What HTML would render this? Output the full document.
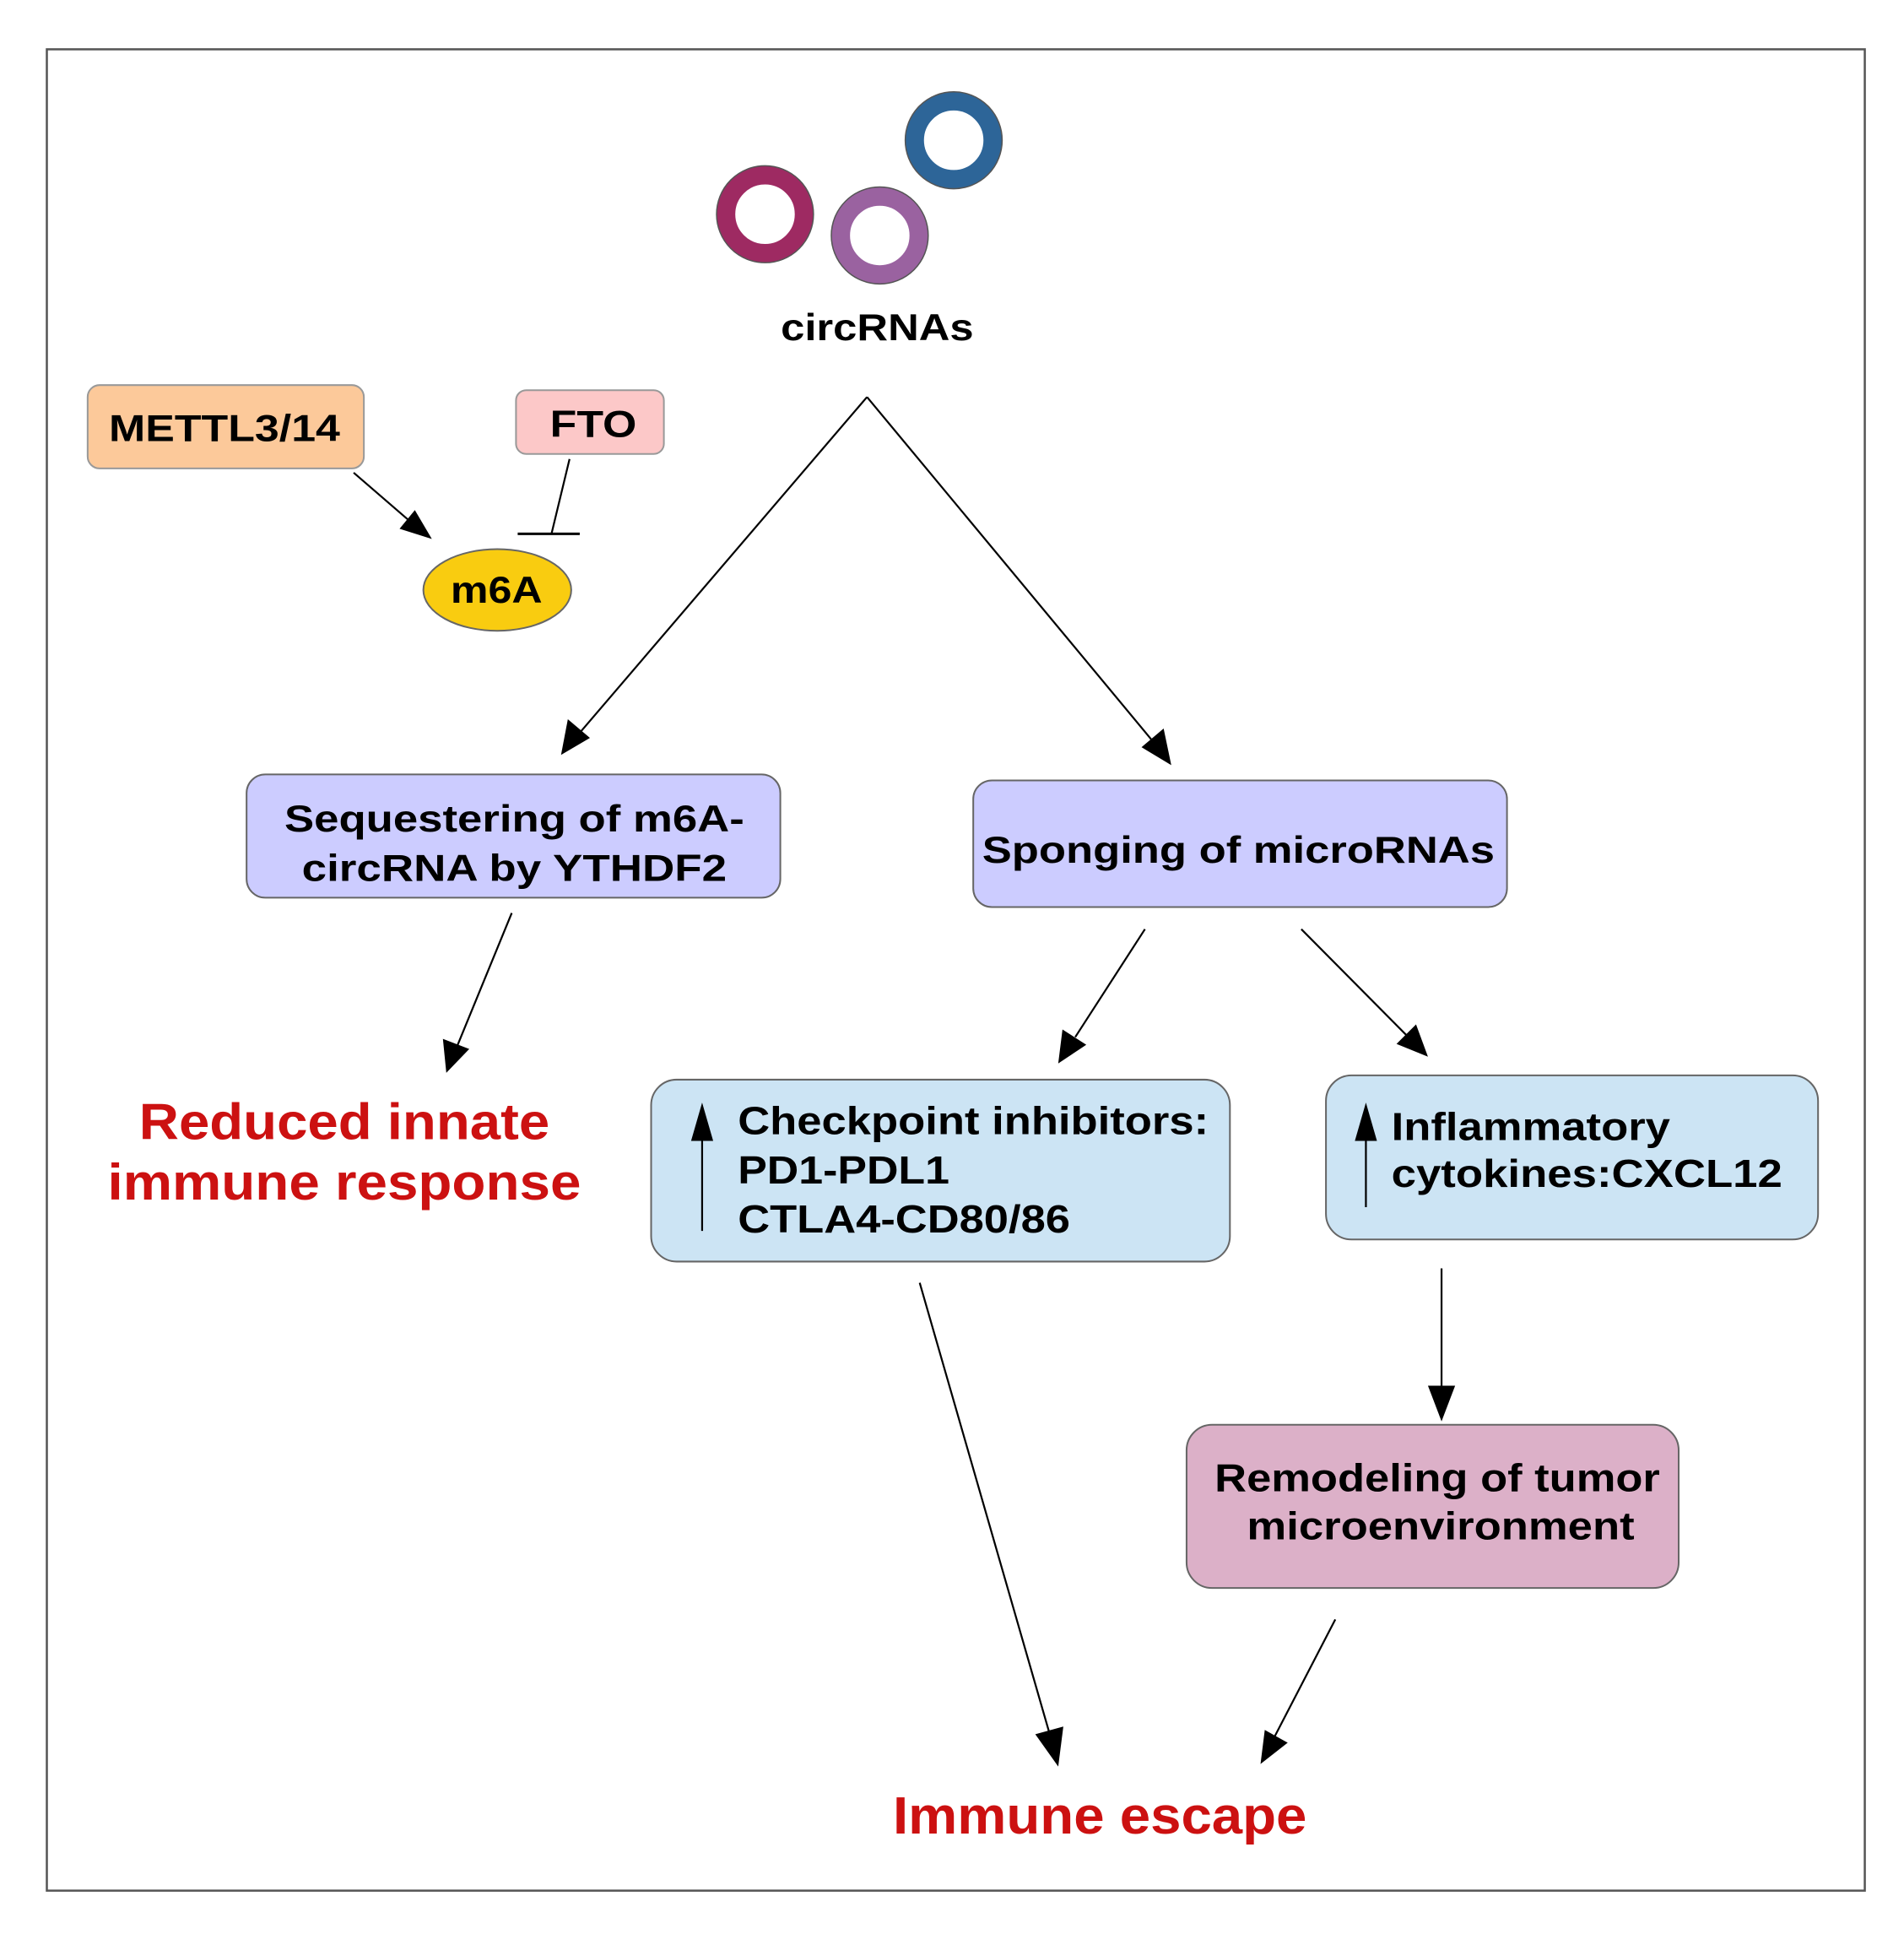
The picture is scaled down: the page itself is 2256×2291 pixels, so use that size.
<!DOCTYPE html>
<html><head><meta charset="utf-8"><style>html,body{margin:0;padding:0;background:#fff}svg{display:block}text{font-family:"Liberation Sans",Arial,sans-serif;font-weight:bold}</style></head>
<body>
<svg width="2256" height="2291" viewBox="0 0 2240 2275" xmlns="http://www.w3.org/2000/svg">
<rect x="55" y="58" width="2139" height="2166" fill="#fff" stroke="#555" stroke-width="2.5"/>
<!-- rings -->
<circle cx="900" cy="252" r="46" fill="none" stroke="#9e2a62" stroke-width="22"/>
<circle cx="900" cy="252" r="57" fill="none" stroke="#555" stroke-width="1.5"/>
<circle cx="1035" cy="277" r="46" fill="none" stroke="#9a62a0" stroke-width="22"/>
<circle cx="1035" cy="277" r="57" fill="none" stroke="#555" stroke-width="1.5"/>
<circle cx="1122" cy="165" r="46" fill="none" stroke="#2d6598" stroke-width="22"/>
<circle cx="1122" cy="165" r="57" fill="none" stroke="#555" stroke-width="1.5"/>
<text x="1032" y="400" font-size="44" text-anchor="middle" textLength="227" lengthAdjust="spacingAndGlyphs">circRNAs</text>
<!-- METTL / FTO / m6A -->
<rect x="103" y="453" width="325" height="98" rx="14" fill="#fcc99a" stroke="#999" stroke-width="2"/>
<text x="264" y="519" font-size="44" text-anchor="middle" textLength="272" lengthAdjust="spacingAndGlyphs">METTL3/14</text>
<rect x="607" y="459" width="174" height="75" rx="12" fill="#fcc8c8" stroke="#999" stroke-width="2"/>
<text x="698" y="514" font-size="44" text-anchor="middle" textLength="102" lengthAdjust="spacingAndGlyphs">FTO</text>
<ellipse cx="585" cy="694" rx="87" ry="48" fill="#f9cc10" stroke="#666" stroke-width="2"/>
<text x="584" y="709" font-size="44" text-anchor="middle" textLength="108" lengthAdjust="spacingAndGlyphs">m6A</text>
<g stroke="#000" stroke-width="2.2" fill="none">
<line x1="416" y1="556" x2="482" y2="613"/>
<line x1="670" y1="540" x2="649" y2="627"/>
<line x1="609" y1="628" x2="682" y2="628" stroke-width="3"/>
<line x1="1020" y1="467" x2="682" y2="862"/>
<line x1="1020" y1="467" x2="1358" y2="874"/>
<line x1="602" y1="1074" x2="538" y2="1230"/>
<line x1="1347" y1="1093" x2="1265" y2="1220"/>
<line x1="1531" y1="1093" x2="1655" y2="1218"/>
<line x1="1696" y1="1492" x2="1696" y2="1635"/>
<line x1="1082" y1="1509" x2="1235" y2="2040"/>
<line x1="1571" y1="1905" x2="1500" y2="2042"/>
</g>
<g fill="#000">
<polygon points="508,634 470,622 488,600"/>
<polygon points="660,888 668,846 694,868"/>
<polygon points="1378,900 1343,879 1369,857"/>
<polygon points="525,1262 521,1222 552,1234"/>
<polygon points="1245,1251 1250,1211 1278,1229"/>
<polygon points="1680,1243 1643,1228 1666,1205"/>
<polygon points="1696,1672 1680,1630 1712,1630"/>
<polygon points="1245,2078 1218,2040 1251,2031"/>
<polygon points="1483,2075 1488,2035 1515,2050"/>
</g>
<!-- boxes -->
<rect x="290" y="911" width="628" height="145" rx="22" fill="#ccccff" stroke="#666" stroke-width="2"/>
<text x="605" y="978" font-size="44" text-anchor="middle" textLength="541" lengthAdjust="spacingAndGlyphs">Sequestering of m6A-</text>
<text x="605" y="1036" font-size="44" text-anchor="middle" textLength="500" lengthAdjust="spacingAndGlyphs">circRNA by YTHDF2</text>
<rect x="1145" y="918" width="628" height="149" rx="22" fill="#ccccff" stroke="#666" stroke-width="2"/>
<text x="1457" y="1015" font-size="44" text-anchor="middle" textLength="603" lengthAdjust="spacingAndGlyphs">Sponging of microRNAs</text>
<text x="405" y="1340" font-size="60" fill="#cc1111" text-anchor="middle" textLength="483" lengthAdjust="spacingAndGlyphs">Reduced innate</text>
<text x="405" y="1411" font-size="60" fill="#cc1111" text-anchor="middle" textLength="557" lengthAdjust="spacingAndGlyphs">immune response</text>
<rect x="766" y="1270" width="681" height="214" rx="30" fill="#cce4f4" stroke="#666" stroke-width="2"/>
<text x="868" y="1334" font-size="46" textLength="554" lengthAdjust="spacingAndGlyphs">Checkpoint inhibitors:</text>
<text x="868" y="1392" font-size="46" textLength="249" lengthAdjust="spacingAndGlyphs">PD1-PDL1</text>
<text x="868" y="1450" font-size="46" textLength="391" lengthAdjust="spacingAndGlyphs">CTLA4-CD80/86</text>
<rect x="1560" y="1265" width="579" height="193" rx="30" fill="#cce4f4" stroke="#666" stroke-width="2"/>
<text x="1637" y="1341" font-size="46" textLength="328" lengthAdjust="spacingAndGlyphs">Inflammatory</text>
<text x="1637" y="1396" font-size="46" textLength="460" lengthAdjust="spacingAndGlyphs">cytokines:CXCL12</text>
<!-- up arrows inside boxes -->
<g stroke="#000" stroke-width="2.2">
<line x1="826" y1="1335" x2="826" y2="1448"/>
<line x1="1607" y1="1335" x2="1607" y2="1420"/>
</g>
<g fill="#000">
<polygon points="826,1297 813,1342 839,1342"/>
<polygon points="1607,1297 1594,1342 1620,1342"/>
</g>
<rect x="1396" y="1676" width="579" height="192" rx="30" fill="#dcb0c8" stroke="#666" stroke-width="2"/>
<text x="1691" y="1754" font-size="46" text-anchor="middle" textLength="524" lengthAdjust="spacingAndGlyphs">Remodeling of tumor</text>
<text x="1695" y="1811" font-size="46" text-anchor="middle" textLength="456" lengthAdjust="spacingAndGlyphs">microenvironment</text>
<text x="1294" y="2157" font-size="62" fill="#cc1111" text-anchor="middle" textLength="487" lengthAdjust="spacingAndGlyphs">Immune escape</text>
</svg>
</body></html>
